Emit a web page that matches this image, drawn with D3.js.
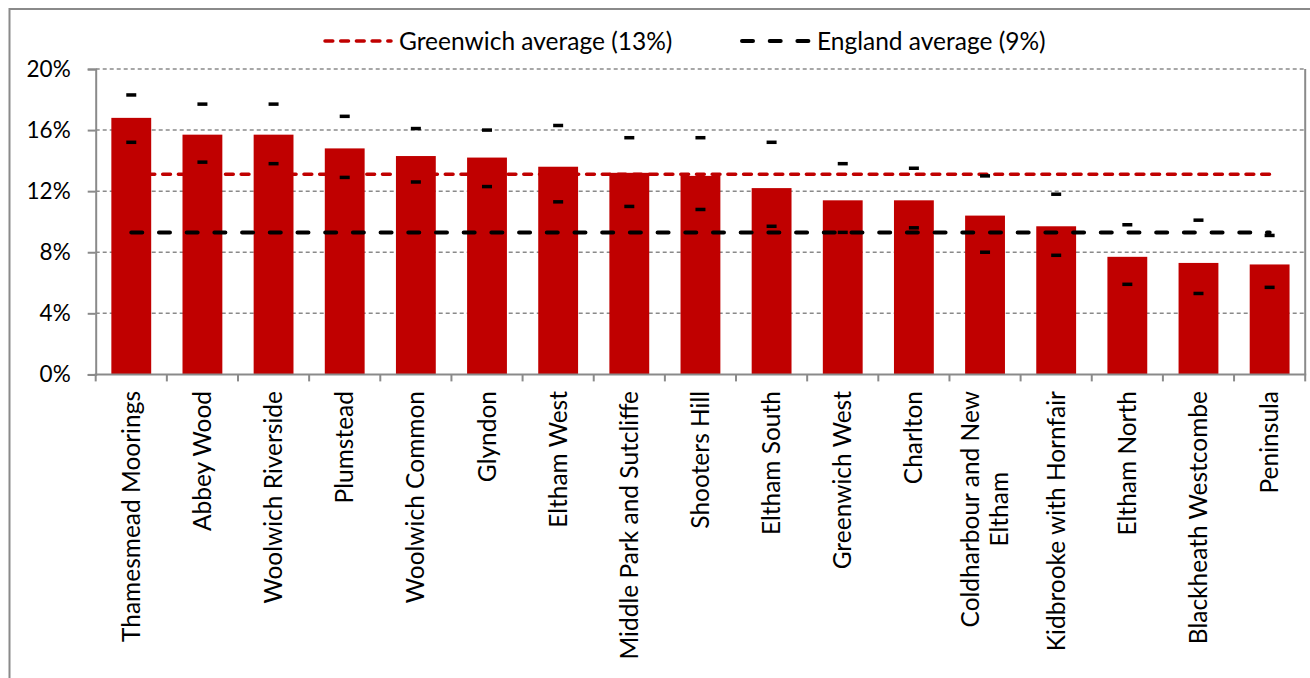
<!DOCTYPE html>
<html>
<head>
<meta charset="utf-8">
<script src="https://cdn.jsdelivr.net/npm/d3@7"></script>
<style>
  html, body { margin: 0; padding: 0; background: #fff; }
  svg { display: block; font-family: Lato, "Noto Sans", sans-serif; }
</style>
</head>
<body>
<svg id="chart" width="1310" height="678"></svg>
<script>
// Ward-level rates (%) with lower / upper confidence limits
const wards = [
  "Thamesmead Moorings", "Abbey Wood", "Woolwich Riverside", "Plumstead",
  "Woolwich Common", "Glyndon", "Eltham West", "Middle Park and Sutcliffe",
  "Shooters Hill", "Eltham South", "Greenwich West", "Charlton",
  "Coldharbour and New\nEltham", "Kidbrooke with Hornfair", "Eltham North",
  "Blackheath Westcombe", "Peninsula"
];
const rates = [16.8, 15.7, 15.7, 14.8, 14.3, 14.2, 13.6, 13.2, 13.0, 12.2, 11.4, 11.4, 10.4, 9.7, 7.7, 7.3, 7.2];
const upperCI = [18.3, 17.7, 17.7, 16.9, 16.1, 16.0, 16.3, 15.5, 15.5, 15.2, 13.8, 13.5, 13.0, 11.8, 9.8, 10.1, 9.1];
const lowerCI = [15.2, 13.9, 13.8, 12.9, 12.6, 12.3, 11.3, 11.0, 10.8, 9.7, 9.3, 9.6, 8.0, 7.8, 5.9, 5.3, 5.7];
const greenwichAvg = 13.1;
const englandAvg = 9.3;
const yTicks = [0, 4, 8, 12, 16, 20];

const svg = d3.select("#chart");
const W = 1310, H = 678;
const plot = { left: 95.7, right: 1305.2, top: 69, bottom: 374.4 };
const grey = "#8a8a8a";
const barRed = "#c00000";
const redDash = { w: 3.5, dash: "7.8,7.9" };
const blackDash = { w: 4, dash: "11,16.7" };

// Outer chart frame
svg.append("rect")
  .attr("x", 9.5).attr("y", 9).attr("width", W + 20).attr("height", H + 20)
  .attr("fill", "#fff").attr("stroke", grey).attr("stroke-width", 2);

const x = d3.scaleBand().domain(d3.range(wards.length))
  .range([plot.left, plot.right]).paddingInner(0.44).paddingOuter(0.22);
const xc = i => x(i) + x.bandwidth() / 2;
const y = d3.scaleLinear().domain([0, 20]).range([plot.bottom, plot.top]);

// Horizontal gridlines
svg.append("g").selectAll("line").data(yTicks.filter(t => t > 0)).join("line")
  .attr("x1", plot.left).attr("x2", plot.right)
  .attr("y1", d => y(d)).attr("y2", d => y(d))
  .attr("stroke", grey).attr("stroke-width", 1.5).attr("stroke-dasharray", "4,3");

// Right edge of the plot area
svg.append("line")
  .attr("x1", plot.right).attr("x2", plot.right)
  .attr("y1", plot.top).attr("y2", plot.bottom)
  .attr("stroke", grey).attr("stroke-width", 2);

// Y axis
const yAxis = svg.append("g").attr("transform", `translate(${plot.left},0)`)
  .call(d3.axisLeft(y).tickValues(yTicks).tickFormat(d => d + "%").tickSize(8).tickPadding(17));
yAxis.select(".domain").attr("stroke", grey).attr("stroke-width", 2);
yAxis.selectAll(".tick line").attr("stroke", grey).attr("stroke-width", 2);
yAxis.selectAll(".tick text").attr("font-size", 22.5).attr("fill", "#000")
  .attr("font-family", "Lato, sans-serif");

// Bars
svg.append("g").selectAll("rect").data(rates).join("rect")
  .attr("x", (d, i) => x(i)).attr("width", x.bandwidth())
  .attr("y", d => y(d)).attr("height", d => y(0) - y(d))
  .attr("fill", barRed);

// X axis baseline and category boundary ticks
const bounds = d3.range(wards.length + 1).map(i => plot.left + i * x.step());
svg.append("g").selectAll("line").data(bounds).join("line")
  .attr("x1", d => d).attr("x2", d => d)
  .attr("y1", plot.bottom).attr("y2", plot.bottom + 7)
  .attr("stroke", grey).attr("stroke-width", 2);
svg.append("line")
  .attr("x1", plot.left - 1).attr("x2", plot.right + 1)
  .attr("y1", plot.bottom).attr("y2", plot.bottom)
  .attr("stroke", grey).attr("stroke-width", 2);

// Average lines
const line = d3.line().x((d, i) => xc(i)).y(d => y(d));
svg.append("path").datum(wards.map(() => greenwichAvg))
  .attr("d", line).attr("fill", "none")
  .attr("stroke", barRed).attr("stroke-width", redDash.w)
  .attr("stroke-linecap", "round").attr("stroke-dasharray", redDash.dash);
svg.append("path").datum(wards.map(() => englandAvg))
  .attr("d", line).attr("fill", "none")
  .attr("stroke", "#000").attr("stroke-width", blackDash.w)
  .attr("stroke-linecap", "round").attr("stroke-dasharray", blackDash.dash);

// Confidence limit markers
const markers = svg.append("g");
[upperCI, lowerCI].forEach(series => {
  markers.selectAll(null).data(series).join("rect")
    .attr("x", (d, i) => xc(i) - 5).attr("width", 10)
    .attr("y", d => y(d) - 1.75).attr("height", 3.5)
    .attr("fill", "#000");
});

// Category labels, rotated
const labelTop = 391;
const labels = svg.append("g").attr("font-size", 24.5).attr("fill", "#000");
wards.forEach((name, i) => {
  const lines = name.split("\n");
  const g = labels.append("g")
    .attr("transform", `translate(${xc(i)},${labelTop}) rotate(-90)`);
  if (lines.length === 1) {
    g.append("text").attr("text-anchor", "end").attr("dy", "0.35em").text(name);
  } else {
    const first = g.append("text").attr("text-anchor", "end")
      .attr("y", -14.5).attr("dy", "0.35em").text(lines[0]);
    const len = first.node().getComputedTextLength();
    lines.slice(1).forEach((ln, k) => {
      g.append("text").attr("text-anchor", "middle")
        .attr("x", -len / 2).attr("y", -14.5 + 29 * (k + 1)).attr("dy", "0.35em").text(ln);
    });
  }
});

// Legend
const legend = svg.append("g").attr("font-size", 24.5);
const legendItems = [
  { label: `Greenwich average (${Math.round(greenwichAvg)}%)`, color: barRed, style: redDash, x0: 325, x1: 391, tx: 399 },
  { label: `England average (${Math.round(englandAvg)}%)`, color: "#000", style: blackDash, x0: 742, x1: 809, tx: 817 }
];
legendItems.forEach(it => {
  legend.append("line")
    .attr("x1", it.x0).attr("x2", it.x1).attr("y1", 41).attr("y2", 41)
    .attr("stroke", it.color).attr("stroke-width", it.style.w)
    .attr("stroke-linecap", "round").attr("stroke-dasharray", it.style.dash);
  legend.append("text").attr("x", it.tx).attr("y", 41).attr("dy", "0.35em")
    .text(it.label);
});
</script>
</body>
</html>
